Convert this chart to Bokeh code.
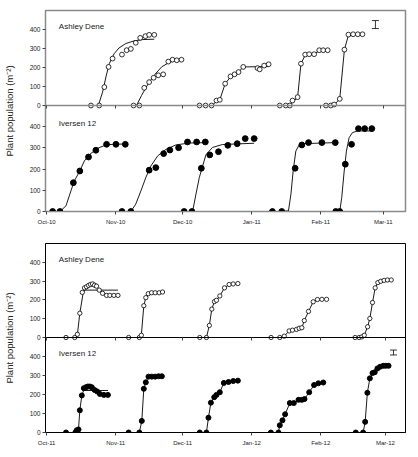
from bokeh.plotting import figure
from bokeh.models import (Range1d, LinearAxis, FixedTicker, Label, Whisker,
                          TeeHead, ColumnDataSource)
from bokeh.layouts import column
from bokeh.embed import file_html
from bokeh.resources import INLINE

FONT = "Liberation Sans"
TEXT = "#222222"

# ---------------------------------------------------------------------------
# Shared axis values (x = days after 1 October of each season)
POP_TICKS = [0, 100, 200, 300, 400]
MONTHS_2010 = [0, 31, 61, 92, 123, 151]
MONTH_LABELS_2010 = ["Oct-10", "Nov-10", "Dec-10", "Jan-11", "Feb-11", "Mar-11"]
MONTHS_2011 = [0, 31, 61, 92, 123, 152]
MONTH_LABELS_2011 = ["Oct-11", "Nov-11", "Dec-11", "Jan-12", "Feb-12", "Mar-12"]

# ---------------------------------------------------------------------------
# 2010/11 season, Ashley Dene: observed plant population per sowing date
AD10_DAYS = [
    [19.9, 23.6, 25.9, 27.8, 29.6, 33.8, 35.9, 37.8, 40.0, 42.0, 44.3, 46.0, 48.3],
    [39.0, 41.6, 43.8, 46.0, 48.0, 50.1, 52.3, 54.6, 56.5, 58.4, 60.5],
    [68.6, 71.3, 74.0, 76.2, 77.7, 80.1, 82.5, 84.3, 86.1, 88.2, 94.6, 95.6, 97.6, 99.6],
    [104.6, 107.3, 109.1, 110.3, 112.6, 114.1, 116.0, 117.8, 120.0, 122.3, 124.1, 126.1],
    [125.3, 127.5, 129.0, 131.5, 133.6, 135.4, 137.5, 139.6, 141.7],
]
AD10_POP = [
    [0, 0, 97, 203, 247, 268, 291, 298, 330, 356, 365, 372, 372],
    [0, 0, 93, 123, 146, 159, 164, 231, 241, 238, 241],
    [0, 0, 0, 26, 30, 115, 153, 164, 176, 203, 197, 190, 210, 217],
    [0, 0, 0, 26, 44, 220, 268, 270, 270, 291, 291, 291],
    [0, 0, 5, 35, 294, 373, 375, 375, 375],
]
# fitted emergence curves
AD10_FIT_DAYS = [
    [23.2, 25.1, 26.6, 28.1, 30.3, 32.5, 35.5, 39.2, 43.0, 48.3],
    [40.3, 42.6, 45.6, 48.6, 51.6, 54.6, 57.6, 60.2],
    [71.3, 74.0, 76.2, 77.7, 80.1, 82.5, 84.3, 86.1, 88.2, 99.6],
    [104.6, 109.1, 110.3, 112.6, 114.1, 116.0, 120.0, 122.3, 126.1],
    [125.3, 129.0, 131.5, 133.6, 135.4, 141.7],
]
AD10_FIT_POP = [
    [0, 70, 150, 220, 273, 303, 326, 340, 347, 349],
    [0, 53, 115, 164, 203, 224, 238, 241],
    [0, 0, 20, 30, 115, 150, 162, 176, 203, 205],
    [0, 0, 15, 44, 220, 265, 270, 288, 290],
    [0, 3, 35, 294, 370, 375],
]

# 2010/11 season, Iversen 12
IV10_DAYS = [
    [2.7, 6.0, 12.0, 14.9, 18.8, 22.1, 26.9, 31.1, 35.3],
    [33.8, 37.8, 46.0, 49.0, 52.5, 55.3, 59.2, 63.2, 67.3, 71.2],
    [61.7, 65.2, 69.4, 73.2, 77.1, 81.3, 85.5, 89.1, 93.1],
    [101.3, 105.5, 111.5, 114.5, 117.5, 123.5, 129.5],
    [129.7, 131.5, 134.0, 136.8, 139.9, 142.7, 145.9],
]
IV10_POP = [
    [0, 0, 136, 191, 257, 289, 317, 317, 317],
    [0, 0, 195, 207, 273, 290, 301, 328, 328, 328],
    [0, 0, 204, 267, 282, 312, 320, 344, 344],
    [0, 0, 204, 314, 325, 325, 325],
    [0, 0, 223, 317, 391, 391, 391],
]
IV10_FIT_DAYS = [
    [6.0, 8.7, 10.9, 12.4, 14.9, 16.9, 19.4, 22.9, 26.6, 31.1, 35.3],
    [37.8, 40.0, 42.3, 44.5, 46.8, 49.8, 53.5, 58.0, 64.0, 71.2],
    [65.5, 67.0, 68.5, 70.0, 71.5, 74.4, 78.9, 93.1],
    [101.3, 105.5, 108.5, 109.6, 110.6, 111.8, 113.3, 114.8, 129.7],
    [131.5, 132.4, 133.5, 134.5, 135.7, 137.2, 139.5, 146.2],
]
IV10_FIT_POP = [
    [0, 27, 97, 144, 191, 238, 270, 298, 314, 318, 318],
    [0, 35, 97, 160, 215, 262, 293, 314, 323, 325],
    [0, 82, 160, 215, 268, 302, 316, 322],
    [0, 0, 3, 82, 191, 285, 314, 320, 325],
    [0, 66, 191, 285, 348, 372, 380, 380],
]
# standard error bar (day, centre, half length)
SE10 = [147.5, 426, 21]

# ---------------------------------------------------------------------------
# 2011/12 season, Ashley Dene
AD11_DAYS = [
    [8.7, 12.6, 13.8, 14.9, 16.0, 17.0, 17.9, 18.8, 19.7, 20.6, 21.5, 22.4, 23.6, 25.1, 26.9, 28.4, 30.2, 32.0],
    [36.8, 41.6, 42.5, 43.6, 44.5, 45.6, 47.1, 48.7, 50.5, 52.0],
    [68.7, 71.7, 73.0, 74.1, 75.3, 76.2, 77.7, 79.8, 81.9, 83.7, 85.8],
    [100.7, 104.6, 106.6, 108.8, 110.3, 112.1, 113.3, 114.5, 115.6, 117.5, 119.6, 121.5, 123.5, 125.6],
    [138.4, 140.2, 141.4, 142.5, 144.0, 145.0, 146.2, 147.4, 148.6, 149.9, 151.4, 152.9, 154.6],
]
AD11_POP = [
    [0, 0, 17, 129, 240, 264, 270, 277, 282, 285, 278, 273, 252, 235, 224, 224, 224, 224],
    [0, 0, 12, 169, 212, 233, 238, 238, 238, 242],
    [0, 0, 64, 151, 191, 198, 221, 264, 282, 285, 287],
    [0, 0, 7, 35, 39, 43, 49, 52, 90, 139, 190, 202, 203, 203],
    [0, 0, 3, 12, 57, 101, 186, 264, 292, 299, 304, 306, 306],
]
AD11_FIT_DAYS = [
    [8.7, 12.6, 13.8, 14.9, 16.3, 17.0, 32.0],
    [41.6, 42.5, 43.6, 44.5, 45.6, 52.0],
    [71.7, 73.0, 74.1, 75.3, 76.2, 77.7, 79.8, 81.9, 83.7, 85.8],
    [100.7, 104.6, 106.6, 108.8, 110.3, 112.1, 113.3, 114.5, 115.6, 117.5, 119.6, 121.5, 125.6],
    [140.2, 141.4, 142.5, 144.0, 145.0, 146.2, 147.4, 148.6, 149.9, 154.6],
]
AD11_FIT_POP = [
    [0, 0, 15, 130, 230, 252, 252],
    [0, 12, 169, 212, 233, 242],
    [0, 64, 151, 191, 198, 221, 264, 282, 285, 287],
    [0, 0, 7, 35, 39, 43, 49, 52, 90, 139, 190, 202, 203],
    [0, 3, 12, 57, 101, 186, 264, 292, 299, 306],
]

# 2011/12 season, Iversen 12
IV11_DAYS = [
    [8.7, 12.9, 13.5, 14.3, 14.9, 15.8, 16.7, 17.6, 18.5, 19.4, 20.3, 21.5, 22.7, 23.9, 25.7, 27.5],
    [36.8, 41.6, 42.7, 43.6, 44.5, 45.7, 47.2, 48.7, 50.2, 51.7],
    [68.7, 71.7, 72.6, 73.7, 75.2, 76.2, 77.7, 79.5, 81.6, 83.7, 85.8],
    [100.6, 104.0, 104.6, 105.8, 107.0, 109.1, 110.9, 113.0, 114.5, 115.7, 117.8, 120.0, 121.9, 124.1],
    [138.7, 142.0, 142.9, 143.9, 145.0, 146.2, 147.2, 148.4, 149.6, 151.0, 152.1, 153.4],
]
IV11_POP = [
    [0, 0, 12, 16, 117, 195, 233, 238, 242, 242, 238, 224, 216, 203, 198, 198],
    [0, 0, 61, 230, 264, 294, 294, 294, 296, 296],
    [0, 0, 78, 157, 186, 198, 212, 261, 266, 271, 273],
    [0, 0, 38, 64, 96, 155, 155, 172, 172, 176, 212, 250, 259, 263],
    [0, 0, 56, 209, 285, 313, 317, 337, 346, 351, 351, 351],
]
IV11_FIT_DAYS = [
    [12.9, 13.5, 14.3, 14.9, 15.8, 16.6, 27.5],
    [41.6, 42.7, 43.6, 44.5, 45.7, 51.7],
    [71.7, 72.6, 73.7, 75.2, 76.2, 77.7, 79.5, 81.6, 83.7, 85.8],
    [104.0, 104.6, 105.8, 107.0, 109.1, 110.9, 113.0, 114.5, 115.7, 117.8, 120.0, 121.9, 124.1],
    [142.0, 142.9, 143.9, 145.0, 146.2, 147.2, 148.4, 149.6, 151.0, 153.4],
]
IV11_FIT_POP = [
    [0, 12, 16, 117, 195, 221, 221],
    [0, 61, 230, 264, 294, 296],
    [0, 78, 157, 186, 198, 212, 261, 266, 271, 273],
    [0, 38, 64, 96, 155, 155, 172, 172, 176, 212, 250, 259, 263],
    [0, 56, 209, 285, 313, 317, 337, 346, 351, 351],
]
SE11 = [155.6, 421, 13]


def flat(groups):
    out = []
    for g in groups:
        out.extend(g)
    return out


def season(ad, iv, months, month_labels, ad_px, iv_px, frame_color,
           frame_width, se, se_site, open_size, filled_size):
    """Two stacked panels (Ashley Dene above, Iversen 12 below) in one frame."""
    # default y range = Iversen 12, extra range "ad" = Ashley Dene
    iv_end = 500.0 * (ad_px + iv_px) / iv_px
    ad_start = -500.0 * iv_px / ad_px
    p = figure(frame_width=360, frame_height=ad_px + iv_px,
               min_border_left=43, min_border_right=15,
               min_border_top=10, min_border_bottom=22,
               x_range=Range1d(-0.5, 161), y_range=Range1d(0, iv_end),
               output_backend="svg", toolbar_location=None)
    p.extra_y_ranges = {"ad": Range1d(ad_start, 500)}
    p.grid.visible = False
    p.background_fill_color = "white"
    p.border_fill_color = "white"
    p.outline_line_color = frame_color
    p.outline_line_width = frame_width

    # y axis: ticks of both panels on one axis
    ratio = ad_px / iv_px
    iv_ticks = [float(v) for v in POP_TICKS]
    ad_ticks = [500.0 + v * ratio for v in POP_TICKS]
    ya = p.yaxis[0]
    ya.ticker = FixedTicker(ticks=iv_ticks + ad_ticks)
    ya.major_label_overrides = {t: str(v) for t, v in
                                zip(iv_ticks + ad_ticks, POP_TICKS + POP_TICKS)}
    ya.axis_label = "Plant population (m\u207b\u00b2)"
    ya.axis_label_text_font = FONT
    ya.axis_label_text_font_style = "normal"
    ya.axis_label_text_font_size = "9.5px"
    ya.axis_label_text_color = TEXT
    ya.axis_label_standoff = 12
    ya.major_label_text_font = FONT
    ya.major_label_text_font_size = "6.5px"
    ya.major_label_text_color = TEXT
    ya.major_label_standoff = 2
    ya.major_tick_out = 3
    ya.major_tick_in = 0
    ya.minor_tick_line_color = None
    ya.axis_line_color = frame_color
    ya.major_tick_line_color = "#444444"

    xa = p.xaxis[0]
    xa.ticker = FixedTicker(ticks=months)
    xa.major_label_overrides = {d: s for d, s in zip(months, month_labels)}
    xa.major_label_text_font = FONT
    xa.major_label_text_font_size = "6px"
    xa.major_label_text_color = TEXT
    xa.major_label_standoff = 4
    xa.major_tick_out = 3
    xa.major_tick_in = 0
    xa.minor_tick_line_color = None
    xa.axis_line_color = frame_color
    xa.major_tick_line_color = "#444444"

    # zero line of the Ashley Dene panel, with month ticks
    div = LinearAxis(fixed_location=500, ticker=FixedTicker(ticks=months),
                     major_tick_out=3, major_tick_in=0,
                     major_label_text_font_size="0px",
                     major_label_text_color=None, major_label_standoff=0,
                     minor_tick_line_color=None,
                     axis_line_color=frame_color, axis_line_width=frame_width,
                     major_tick_line_color="#444444")
    p.add_layout(div, "below")

    # Ashley Dene: open circles
    ad_days, ad_pop, ad_fd, ad_fp = ad
    p.multi_line(xs=ad_fd, ys=ad_fp, y_range_name="ad",
                 line_color="black", line_width=0.9)
    p.scatter(x=flat(ad_days), y=flat(ad_pop), y_range_name="ad",
              marker="circle", size=open_size, fill_color="white",
              line_color="black", line_width=0.8)

    # Iversen 12: filled circles
    iv_days, iv_pop, iv_fd, iv_fp = iv
    p.multi_line(xs=iv_fd, ys=iv_fp, line_color="black", line_width=0.9)
    p.scatter(x=flat(iv_days), y=flat(iv_pop), marker="circle",
              size=filled_size, fill_color="black", line_color="black")

    p.add_layout(Label(x=5.5, y=415, y_range_name="ad", text="Ashley Dene",
                       text_font=FONT, text_font_size="8px",
                       text_baseline="middle", text_color=TEXT))
    p.add_layout(Label(x=5.5, y=415, text="Iversen 12",
                       text_font=FONT, text_font_size="8px",
                       text_baseline="middle", text_color=TEXT))

    day, mid, half = se
    src = ColumnDataSource(dict(base=[day], upper=[mid + half], lower=[mid - half]))
    whisker_kw = dict(base="base", upper="upper", lower="lower", source=src,
                      dimension="height", line_color="black", line_width=0.8,
                      upper_head=TeeHead(size=7, line_color="black", line_width=0.8),
                      lower_head=TeeHead(size=7, line_color="black", line_width=0.8))
    if se_site == "ad":
        whisker_kw["y_range_name"] = "ad"
    p.add_layout(Whisker(**whisker_kw))
    return p


top = season((AD10_DAYS, AD10_POP, AD10_FIT_DAYS, AD10_FIT_POP),
             (IV10_DAYS, IV10_POP, IV10_FIT_DAYS, IV10_FIT_POP),
             MONTHS_2010, MONTH_LABELS_2010, 95, 106, "#8a8a8a", 1.5,
             SE10, "ad", 4.8, 5.8)
bottom = season((AD11_DAYS, AD11_POP, AD11_FIT_DAYS, AD11_FIT_POP),
                (IV11_DAYS, IV11_POP, IV11_FIT_DAYS, IV11_FIT_POP),
                MONTHS_2011, MONTH_LABELS_2011, 94, 95, "black", 1,
                SE11, "iv", 4.3, 5.0)

layout = column(top, bottom, spacing=0)
open("out.html", "w").write(file_html(layout, INLINE))
